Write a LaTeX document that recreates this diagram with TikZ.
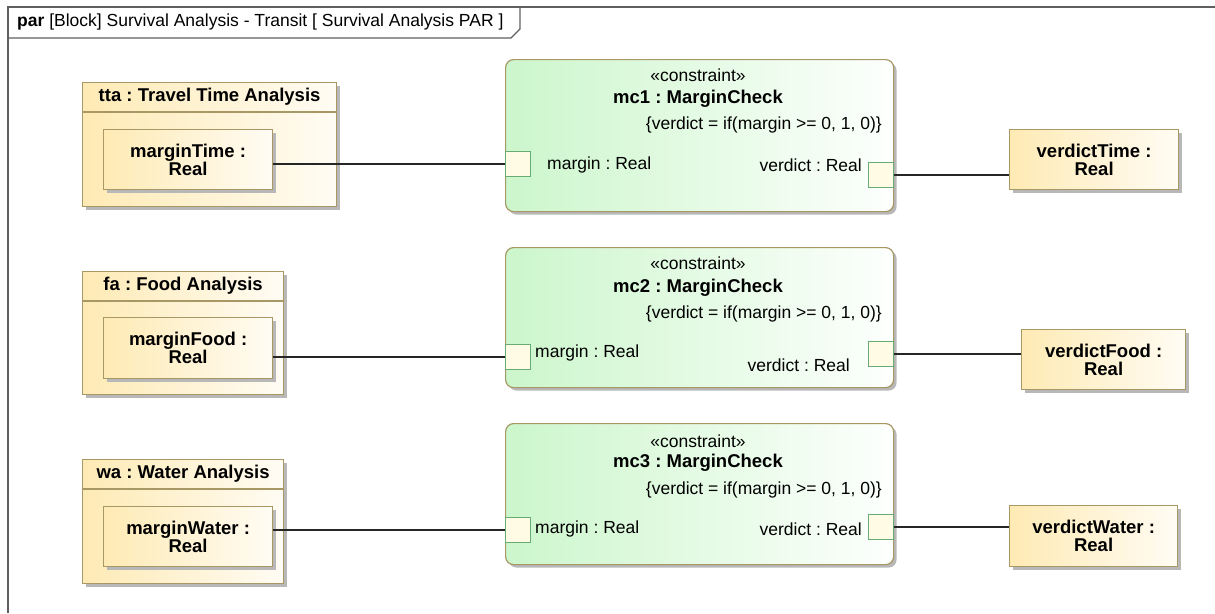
\documentclass[tikz,border=0pt]{standalone}
\usepackage{fontspec}
\setmainfont{Liberation Sans}
\usepackage{tikz}
\usetikzlibrary{shadows, positioning, calc}
\frenchspacing

\definecolor{blkfill}{RGB}{254,234,180}
\definecolor{blkfillr}{RGB}{255,252,244}
\definecolor{blkline}{RGB}{168,152,102}
\definecolor{cfill}{RGB}{204,246,204}
\definecolor{cfillr}{RGB}{253,255,253}
\definecolor{portline}{RGB}{105,172,115}
\definecolor{portfill}{RGB}{255,251,228}
\definecolor{framegray}{RGB}{95,95,95}

\begin{document}
\begin{tikzpicture}[x=1pt,y=-1pt,
  font=\fontsize{17.5}{18}\selectfont,
  shad/.style={drop shadow={shadow xshift=3pt,shadow yshift=-3pt,fill=black!28,opacity=1}},
  blk/.style={draw=blkline, line width=1.2pt, left color=blkfill, right color=blkfillr,
    shad, anchor=north west, inner sep=0pt},
  part/.style={blk, align=center, font=\fontsize{18.5}{18}\selectfont\bfseries},
  cblk/.style={draw=blkline, line width=1.2pt, rounded corners=8pt, left color=cfill,
    right color=cfillr, shad, anchor=north west, inner sep=0pt, minimum width=388pt},
  port/.style={draw=portline, line width=1.2pt, fill=portfill, anchor=north west,
    inner sep=0pt, minimum size=25pt},
  lbl/.style={inner sep=0pt},
  ttl/.style={inner sep=0pt, font=\fontsize{18.5}{18}\selectfont\bfseries},
  wire/.style={black!85, line width=1.3pt}]
\useasboundingbox (0,0) rectangle (1215,613);

% frame
\draw[framegray, line width=1.2pt] (1215,7) -- (8,7) -- (8,613);
\draw[framegray, line width=1.2pt] (8,38) -- (511,38) -- (520,29) -- (520,7);
\node[lbl, anchor=west] (hdr) at (17,22) {\textbf{par} [Block] Survival Analysis - Transit [ Survival Analysis PAR ]};

% analysis blocks
\node[blk, minimum width=254pt, minimum height=124pt] (tta) at (82,82) {};
\draw[blkline, line width=1.2pt] ($(tta.north west)+(0,30)$) -- ($(tta.north east)+(0,30)$);
\node[ttl] (ttat) at ($(tta.north)+(0,15)$) {tta : Travel Time Analysis};
\node[part, minimum width=169pt, minimum height=60pt] (mt) at (103,129) {marginTime :\\Real};

\node[blk, minimum width=201pt, minimum height=123pt] (fa) at (82,271) {};
\draw[blkline, line width=1.2pt] ($(fa.north west)+(0,30)$) -- ($(fa.north east)+(0,30)$);
\node[ttl] (fat) at ($(fa.north)+(0,15)$) {fa : Food Analysis};
\node[part, minimum width=169pt, minimum height=61pt] (mf) at (103,317) {marginFood :\\Real};

\node[blk, minimum width=201pt, minimum height=124pt] (wa) at (82,459) {};
\draw[blkline, line width=1.2pt] ($(wa.north west)+(0,30)$) -- ($(wa.north east)+(0,30)$);
\node[ttl] (wat) at ($(wa.north)+(0,15)$) {wa : Water Analysis};
\node[part, minimum width=169pt, minimum height=60pt] (mw) at (103,506) {marginWater :\\Real};

% constraint blocks
\node[cblk, minimum height=152pt] (mc1) at (505,59) {};
\node[lbl] (mc1s) at (698,75) {«constraint»};
\node[ttl] (mc1n) at (698,99) {mc1 : MarginCheck};
\node[lbl, anchor=east] (mc1c) at (882,125) {\{verdict = if(margin >= 0, 1, 0)\}};
\node[port] (mc1in) at (505,151) {};
\node[port] (mc1out) at (868,162) {};
\node[lbl, anchor=west] (mc1a) at (547,165) {margin : Real};
\node[lbl, anchor=east] (mc1b) at (862,165) {verdict : Real};

\node[cblk, minimum height=140pt] (mc2) at (505,247) {};
\node[lbl] (mc2s) at (698,263) {«constraint»};
\node[ttl] (mc2n) at (698,288) {mc2 : MarginCheck};
\node[lbl, anchor=east] (mc2c) at (882,314) {\{verdict = if(margin >= 0, 1, 0)\}};
\node[port] (mc2in) at (505,344) {};
\node[port] (mc2out) at (868,341) {};
\node[lbl, anchor=west] (mc2a) at (535,353) {margin : Real};
\node[lbl, anchor=east] (mc2b) at (850,365) {verdict : Real};

\node[cblk, minimum height=141pt] (mc3) at (505,423) {};
\node[lbl] (mc3s) at (698,441) {«constraint»};
\node[ttl] (mc3n) at (698,463) {mc3 : MarginCheck};
\node[lbl, anchor=east] (mc3c) at (882,490) {\{verdict = if(margin >= 0, 1, 0)\}};
\node[port] (mc3in) at (505,517) {};
\node[port] (mc3out) at (868,514) {};
\node[lbl, anchor=west] (mc3a) at (535,529) {margin : Real};
\node[lbl, anchor=east] (mc3b) at (862,529) {verdict : Real};

% verdict values
\node[part, minimum width=169pt, minimum height=60pt] (vt) at (1009,129) {verdictTime :\\Real};
\node[part, minimum width=164pt, minimum height=60pt] (vf) at (1021,329) {verdictFood :\\Real};
\node[part, minimum width=168pt, minimum height=61pt] (vw) at (1009,505) {verdictWater :\\Real};

% bindings
\draw[wire] (mt.east |- mc1in.west) -- (mc1in.west);
\draw[wire] (mf.east |- mc2in.west) -- (mc2in.west);
\draw[wire] (mw.east |- mc3in.west) -- (mc3in.west);
\draw[wire] (mc1out.east) -- (vt.west |- mc1out.east);
\draw[wire] (mc2out.east) -- (vf.west |- mc2out.east);
\draw[wire] (mc3out.east) -- (vw.west |- mc3out.east);
\end{tikzpicture}
\end{document}
